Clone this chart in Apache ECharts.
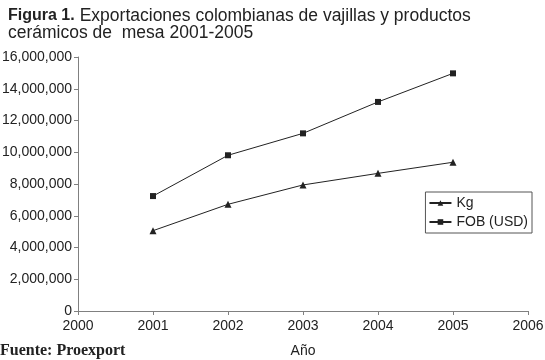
<!DOCTYPE html>
<html>
<head>
<meta charset="utf-8">
<script src="https://cdn.jsdelivr.net/npm/echarts@6/dist/echarts.min.js"></script>
<style>
  html, body { margin: 0; padding: 0; background: #fff; }
  #chart { width: 545px; height: 360px; }
</style>
</head>
<body>
<div id="chart"></div>
<script>
// datos
var years = [2001, 2002, 2003, 2004, 2005];
var kg = [5060000, 6720000, 7940000, 8670000, 9370000];
var fob = [7240000, 9810000, 11190000, 13170000, 14970000];

var font = 'Liberation Sans, Arial, sans-serif';

function pairs(vals) {
    return years.map(function (y, i) { return [y, vals[i]]; });
}

var myChart = echarts.init(document.getElementById('chart'));
myChart.setOption({
    backgroundColor: '#fff',
    animation: false,
    title: {
        left: 3,
        top: 2,
        text: '{b|Figura 1.} {r|Exportaciones colombianas de vajillas y productos}\n{r|cerámicos de  mesa 2001-2005}',
        textStyle: {
            fontWeight: 'normal',
            rich: {
                b: { fontFamily: font, fontSize: 16, fontWeight: 'bold', color: '#222', lineHeight: 17 },
                r: { fontFamily: font, fontSize: 17.5, fontWeight: 'normal', color: '#222', lineHeight: 17 }
            }
        }
    },
    grid: { left: 78, right: 17, top: 57, bottom: 49, outerBoundsMode: 'none' },
    legend: {
        orient: 'vertical',
        right: 13,
        top: 192,
        itemWidth: 22,
        itemHeight: 7,
        itemGap: 5,
        padding: [4, 4, 4, 3],
        borderColor: '#555',
        borderWidth: 1,
        textStyle: { fontFamily: font, fontSize: 14, color: '#222' },
        data: ['Kg', 'FOB (USD)']
    },
    xAxis: {
        type: 'value',
        min: 2000,
        max: 2006,
        interval: 1,
        name: 'Año',
        nameLocation: 'middle',
        nameGap: 33,
        nameTextStyle: { fontFamily: font, fontSize: 14, color: '#222' },
        axisLine: { lineStyle: { color: '#808080' } },
        axisTick: { length: 4, lineStyle: { color: '#808080' } },
        axisLabel: {
            fontFamily: font, fontSize: 14, color: '#222', margin: 8,
            formatter: function (v) { return String(v); }
        },
        splitLine: { show: false }
    },
    yAxis: {
        type: 'value',
        min: 0,
        max: 16000000,
        interval: 2000000,
        axisLine: { show: true, lineStyle: { color: '#808080' } },
        axisTick: { show: true, length: 4, lineStyle: { color: '#808080' } },
        axisLabel: {
            fontFamily: font, fontSize: 14, color: '#222', margin: 6,
            formatter: function (v) { return v.toLocaleString('en-US'); }
        },
        splitLine: { show: false }
    },
    graphic: [{
        type: 'text',
        left: 0,
        top: 343,
        style: { text: 'Fuente: Proexport', font: 'bold 16px "Liberation Serif", serif', fill: '#222' }
    }],
    series: [
        {
            name: 'Kg',
            type: 'line',
            data: pairs(kg),
            symbol: 'triangle',
            symbolSize: 7,
            lineStyle: { color: '#222', width: 1 },
            itemStyle: { color: '#222' }
        },
        {
            name: 'FOB (USD)',
            type: 'line',
            data: pairs(fob),
            symbol: 'rect',
            symbolSize: 6,
            lineStyle: { color: '#222', width: 1 },
            itemStyle: { color: '#222' }
        }
    ]
});
</script>
</body>
</html>
